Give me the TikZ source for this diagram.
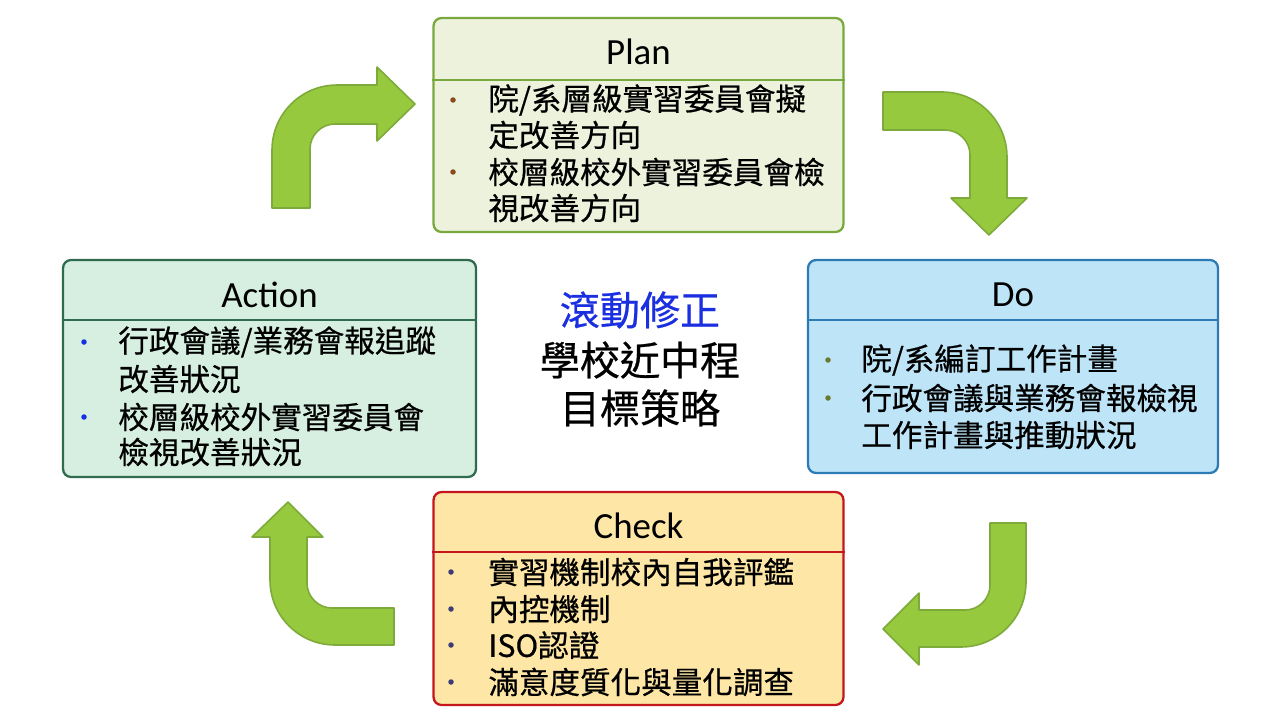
\documentclass[tikz,border=0pt]{standalone}
\usepackage{fontspec}
\setmainfont{Carlito}
\newfontfamily\cjk[FakeBold=0.6]{Noto Sans CJK TC}
\usetikzlibrary{positioning}
\definecolor{planfill}{HTML}{EDF2DC}
\definecolor{planline}{HTML}{79A83D}
\definecolor{planbullet}{HTML}{8A4A1C}
\definecolor{dofill}{HTML}{BEE4F8}
\definecolor{doline}{HTML}{2D7BB4}
\definecolor{dobullet}{HTML}{6B7A2F}
\definecolor{checkfill}{HTML}{FDE6A6}
\definecolor{checkline}{HTML}{C4161C}
\definecolor{checkbullet}{HTML}{3C3C78}
\definecolor{actfill}{HTML}{D6EFE0}
\definecolor{actline}{HTML}{2F6B4F}
\definecolor{actbullet}{HTML}{1530E0}
\definecolor{arrowfill}{HTML}{97C93F}
\definecolor{arrowline}{HTML}{7DAA3A}
\definecolor{rollblue}{HTML}{1A2FE0}

\begin{document}
\begin{tikzpicture}[
    x=0.02cm, y=-0.02cm,
    box/.style={draw, rounded corners=0.16cm, line width=1.3pt, minimum width=8.2cm, inner sep=0pt},
    divider/.style={line width=1.3pt},
    boxtitle/.style={inner sep=0pt, font=\fontsize{21}{24}\selectfont},
    itemline/.style={anchor=west, inner sep=0pt, font=\cjk\fontsize{17.4}{20}\selectfont},
    centertext/.style={inner sep=0pt, font=\cjk\fontsize{22.8}{26}\selectfont},
    bent/.style={fill=arrowfill, draw=arrowline, line width=0.9pt, line join=round}
  ]
    \useasboundingbox (0,0) rectangle (1280,720);

    % Cycle arrows
    \draw[bent] (272,208) -- (272,150) arc[start angle=180, end angle=90, radius=1.3cm] -- (377,85) -- (377,67) -- (415,104) -- (377,141) -- (377,124) -- (335,124) arc[start angle=90, end angle=180, radius=0.5cm] -- (310,208) -- cycle;
    \draw[bent] (883,92) -- (942,92) arc[start angle=90, end angle=0, radius=1.3cm] -- (1007,198) -- (1027,198) -- (989,235) -- (951,198) -- (970,198) -- (970,155) arc[start angle=0, end angle=90, radius=0.5cm] -- (883,130) -- cycle;
    \draw[bent] (990,523) -- (1026,523) -- (1026,582) arc[start angle=0, end angle=-90, radius=1.3cm] -- (919,647) -- (919,665) -- (883,629) -- (919,593) -- (919,610) -- (965,610) arc[start angle=-90, end angle=0, radius=0.5cm] -- cycle;
    \draw[bent] (394,608) -- (332,608) arc[start angle=-90, end angle=-180, radius=0.5cm] -- (307,537) -- (323,537) -- (288,502) -- (252,537) -- (270,537) -- (270,580) arc[start angle=180, end angle=270, radius=1.3cm] -- (394,645) -- cycle;

    % Boxes
    \node[box, draw=planline, fill=planfill, minimum height=4.28cm] (plan) at (638.5,125) {};
    \node[box, draw=doline, fill=dofill, minimum height=4.26cm] (do) at (1013,366.5) {};
    \node[box, draw=checkline, fill=checkfill, minimum height=4.26cm] (check) at (638.5,598.5) {};
    \node[box, draw=actline, fill=actfill, minimum height=4.34cm, minimum width=8.26cm] (action) at (269.5,368.5) {};

    \draw[divider, planline] (plan.west |- 0,80) -- (plan.east |- 0,80);
    \draw[divider, doline] (do.west |- 0,320) -- (do.east |- 0,320);
    \draw[divider, checkline] (check.west |- 0,552) -- (check.east |- 0,552);
    \draw[divider, actline] (action.west |- 0,320) -- (action.east |- 0,320);

    \node[boxtitle] (plantitle) at (638.5,52) {Plan};
    \node[boxtitle] (dotitle) at (1013,295) {Do};
    \node[boxtitle] (checktitle) at (638.5,526) {Check};
    \node[boxtitle] (actiontitle) at (269.5,295) {Action};

    % Plan items
    \foreach \y/\t in {100/{院/系層級實習委員會擬}, 135/{定改善方向}, 172/{校層級校外實習委員會檢}, 208/{視改善方向}}
      \node[itemline] (plan\y) at (488,\y) {\t};
    \foreach \y in {100,172}
      \fill[planbullet] (453,\y) circle (0.055cm);

    % Do items
    \foreach \y/\t in {360/{院/系編訂工作計畫}, 398/{行政會議與業務會報檢視}, 435/{工作計畫與推動狀況}}
      \node[itemline] (do\y) at (861,\y) {\t};
    \foreach \y in {360,398}
      \fill[dobullet] (828,\y) circle (0.055cm);

    % Check items
    \foreach \y/\t in {572/{實習機制校內自我評鑑}, 609/{內控機制}, 645/{ISO認證}, 682/{滿意度質化與量化調查}}
      \node[itemline] (check\y) at (488,\y) {\t};
    \foreach \y in {572,609,645,682}
      \fill[checkbullet] (451,\y) circle (0.055cm);

    % Action items
    \foreach \y/\t in {342/{行政會議/業務會報追蹤}, 379/{改善狀況}, 417/{校層級校外實習委員會}, 452/{檢視改善狀況}}
      \node[itemline] (action\y) at (118,\y) {\t};
    \foreach \y in {342,417}
      \fill[actbullet] (84,\y) circle (0.055cm);

    % Centre
    \node[centertext, text=rollblue] (roll) at (640,310) {滾動修正};
    \node[centertext] (goal1) at (640,360) {學校近中程};
    \node[centertext] (goal2) at (640,408) {目標策略};
\end{tikzpicture}
\end{document}
